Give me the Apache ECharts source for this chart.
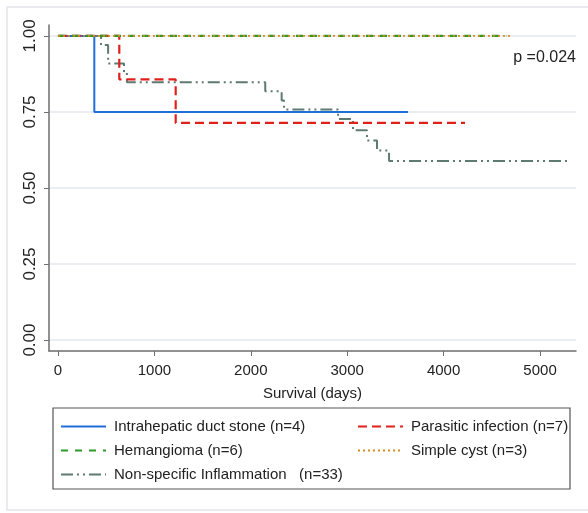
<!DOCTYPE html>
<html>
<head>
<meta charset="utf-8">
<script src="https://cdn.jsdelivr.net/npm/echarts@6/dist/echarts.min.js"></script>
<style>
    html, body { margin: 0; padding: 0; background: #fff; }
    #chart { width: 588px; height: 513px; }
</style>
</head>
<body>
<div id="chart"></div>
<script>
// Kaplan-Meier steps (days, survival)
const idsTime = [0, 377, 3631]
const idsSurv = [1, 0.75, 0.75]
const parTime = [0, 636, 1221, 4222]
const parSurv = [1, 0.857, 0.714, 0.714]
const hemTime = [0, 4650]
const hemSurv = [1, 1]
const scTime = [0, 4710]
const scSurv = [1, 1]
const nsiTime = [0, 446, 520, 685, 715, 2150, 2320, 2345, 2905, 3060, 3205, 3309, 3434, 5280]
const nsiSurv = [1, 0.970, 0.909, 0.879, 0.848, 0.818, 0.788, 0.758, 0.727, 0.690, 0.656, 0.623, 0.589, 0.589]

const xTicks = [0, 1000, 2000, 3000, 4000, 5000]
const yTicks = [0, 0.25, 0.5, 0.75, 1]

const names = [
    'Intrahepatic duct stone (n=4)',
    'Parasitic infection (n=7)',
    'Hemangioma (n=6)',
    'Simple cyst (n=3)',
    'Non-specific Inflammation   (n=33)'
]

function pairs (t, s) {
    return t.map(function (v, i) { return [v, s[i]] })
}

const font = 'Liberation Sans, Arial, sans-serif'
const chart = echarts.init(document.getElementById('chart'))

function kmSeries (name, t, s, color, width, dash, z) {
    return {
        name: name,
        type: 'line',
        step: 'end',
        symbol: 'none',
        showSymbol: false,
        z: z,
        data: pairs(t, s),
        lineStyle: { color: color, width: width, type: dash },
        itemStyle: { color: color }
    }
}

let legendBase = {
    orient: 'vertical',
    padding: 0,
    itemWidth: 45, itemHeight: 14, itemGap: 9,
    itemStyle: { opacity: 0 },
    textStyle: { fontSize: 15, color: '#222', fontFamily: font, padding: [0, 0, 0, 3] }
}

chart.setOption({
    animation: false,
    textStyle: { fontFamily: font },
    grid: { left: 49, top: 25, width: 527, height: 326 },
    xAxis: {
        type: 'value',
        min: -93,
        max: 5373,
        name: 'Survival (days)',
        nameLocation: 'middle',
        nameGap: 35,
        nameTextStyle: { fontSize: 15, color: '#222', fontFamily: font },
        axisLine: { show: true, onZero: false, lineStyle: { color: '#6e6e6e', width: 1.5 } },
        axisTick: { show: true, length: 5, customValues: xTicks, lineStyle: { color: '#6e6e6e' } },
        axisLabel: {
            customValues: xTicks, fontSize: 15, color: '#222', margin: 12,
            formatter: function (v) { return String(v) }
        },
        splitLine: { show: false }
    },
    yAxis: {
        type: 'value',
        min: -0.036,
        max: 1.036,
        axisLine: { show: true, onZero: false, lineStyle: { color: '#6e6e6e', width: 1.5 } },
        axisTick: { show: true, length: 5, customValues: yTicks, lineStyle: { color: '#6e6e6e' } },
        axisLabel: {
            customValues: yTicks,
            rotate: 90,
            fontSize: 17,
            color: '#222',
            margin: 10,
            formatter: function (v) { return v.toFixed(2) }
        },
        splitLine: { show: true, lineStyle: { color: '#e3e7ec', width: 1.5 } }
    },
    legend: [
        Object.assign({}, legendBase, { left: 60, top: 419, data: [names[0], names[2], names[4]] }),
        Object.assign({}, legendBase, { left: 357, top: 419, data: [names[1], names[3]] })
    ],
    graphic: [
        {
            type: 'rect', z: -10, silent: true,
            shape: { x: 7, y: 7, width: 600, height: 503 },
            style: { fill: 'none', stroke: '#e2e5ea', lineWidth: 1.5 }
        },
        {
            type: 'rect', silent: true,
            shape: { x: 53, y: 408, width: 517, height: 81 },
            style: { fill: 'none', stroke: '#555', lineWidth: 1.2 }
        },
        {
            type: 'text', silent: true,
            right: 12, top: 50,
            style: { text: 'p =0.024', fontSize: 16, fill: '#222', fontFamily: font }
        }
    ],
    series: [
        kmSeries(names[4], nsiTime, nsiSurv, '#5f7a70', 2, [12, 4, 2, 4, 2, 4], 2),
        kmSeries(names[0], idsTime, idsSurv, '#1f6fd8', 2, 'solid', 3),
        kmSeries(names[1], parTime, parSurv, '#e0201b', 2.2, [9, 5], 4),
        kmSeries(names[2], hemTime, hemSurv, '#2a9a2a', 2.2, [7, 7], 5),
        kmSeries(names[3], scTime, scSurv, '#d98a1c', 1.8, [2, 3], 6)
    ]
})
</script>
</body>
</html>
